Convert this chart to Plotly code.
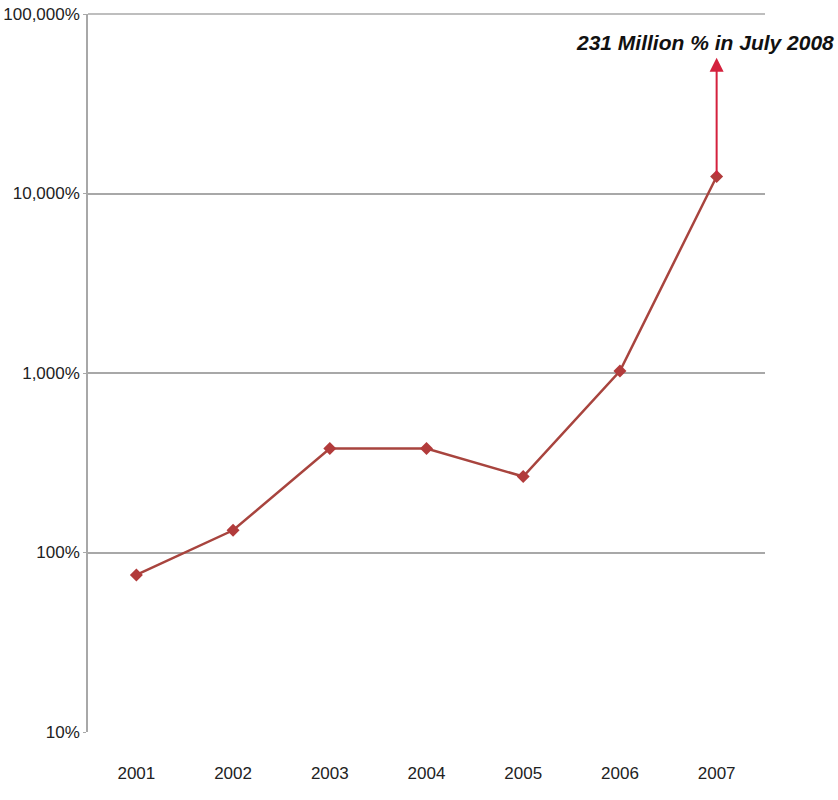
import plotly.graph_objects as go
import math

years = ["2001", "2002", "2003", "2004", "2005", "2006", "2007"]
inflation_pct = [75, 133, 380, 380, 265, 1025, 12440]
arrow_top_pct = 57000
note_text = "231 Million % in July 2008"
ytick_vals = [10, 100, 1000, 10000, 100000]
ytick_text = ["10%", "100%", "1,000%", "10,000%", "100,000%"]

FONT = "Liberation Sans, Arial, sans-serif"

fig = go.Figure()
fig.add_trace(go.Scatter(
    x=years, y=inflation_pct, mode="lines+markers",
    line=dict(color="#A8443E", width=2.5),
    marker=dict(symbol="diamond", size=10, color="#B23B3B"),
    hoverinfo="skip", showlegend=False,
))

last = len(years) - 1
# arrow from last point upward
fig.add_annotation(
    x=last, y=math.log10(arrow_top_pct), xref="x", yref="y",
    ax=last, ay=math.log10(inflation_pct[-1]), axref="x", ayref="y",
    showarrow=True, arrowhead=2, arrowsize=1.4, arrowwidth=2,
    arrowcolor="#D4213D", text="",
)
fig.add_annotation(
    x=last, y=4.84, xref="x", yref="y", text="<b><i>" + note_text + "</i></b>",
    showarrow=False, xanchor="center", yanchor="middle", xshift=-12,
    font=dict(family=FONT, size=21, color="#111111"),
)

# small tick marks along the 100% axis crossing at category boundaries
for b in range(1, len(years)):
    fig.add_shape(type="line", xref="x", yref="y",
                  x0=b - 0.5, x1=b - 0.5, y0=math.log10(100), y1=math.log10(100) - 0.045,
                  line=dict(color="#999999", width=1.2))

fig.update_layout(
    width=838, height=800,
    margin=dict(l=88, r=73, t=14, b=68, autoexpand=False),
    paper_bgcolor="white", plot_bgcolor="white",
    font=dict(family=FONT, color="#222222", size=17),
)
fig.update_xaxes(
    type="category", range=[-0.5, len(years) - 0.5], automargin=False,
    showgrid=False, showline=False, ticks="", ticklabelstandoff=29,
    tickfont=dict(family=FONT, size=17, color="#222222"),
)
fig.update_yaxes(
    type="log", range=[1, 5], automargin=False, ticklabeloverflow="allow",
    tickvals=ytick_vals, ticktext=ytick_text,
    showgrid=True, gridcolor="#A8A8A8", gridwidth=1.5,
    showline=True, linecolor="#A8A8A8", linewidth=1.5,
    ticks="outside", ticklen=3, tickcolor="#A8A8A8",
    tickfont=dict(family=FONT, size=17, color="#222222"),
    zeroline=False,
)

# top gridline at 100,000% (top edge of the plot area; edge gridlines are not drawn by default)
fig.add_shape(type="line", xref="paper", yref="paper", x0=0, x1=1, y0=1, y1=1,
              line=dict(color="#A8A8A8", width=1.5))

fig.write_html("out.html", config={"displayModeBar": False},
               post_script="document.body.style.margin='0px';document.body.style.overflow='hidden';")
